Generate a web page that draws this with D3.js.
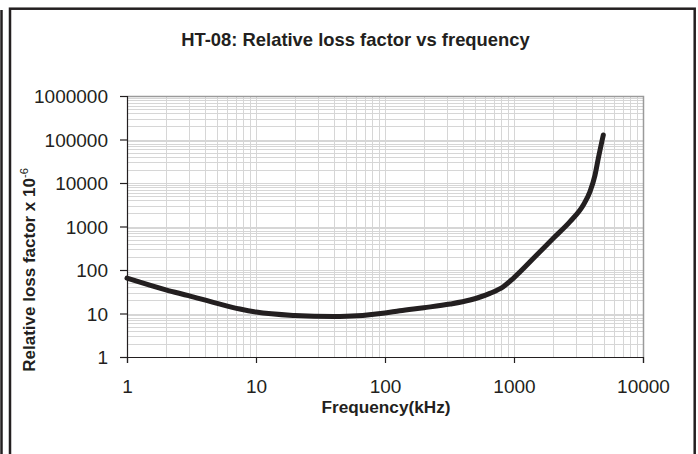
<!DOCTYPE html>
<html><head><meta charset="utf-8">
<script src="https://cdn.jsdelivr.net/npm/d3@7"></script>
<style>
html,body{margin:0;padding:0;background:#fff;}
svg{display:block;font-family:"Liberation Sans",Arial,sans-serif;}
</style></head>
<body>
<svg id="c" width="698" height="454"></svg>
<script>
const frequency = [1, 2, 3, 5, 7.5, 10, 20, 40, 50, 100, 130, 200, 320, 456, 650, 826, 988, 1500, 2017, 2717, 3446, 3882, 4246, 4505, 4923];
const lossFactor = [65, 35, 25.7, 17.1, 12.7, 10.8, 9.0, 8.5, 8.6, 10.3, 11.6, 13.6, 16.5, 20.4, 29, 41.3, 64.5, 221, 536, 1290, 3120, 6300, 15200, 37000, 127000];
const xTicks = [1, 10, 100, 1000, 10000];
const yTicks = [1, 10, 100, 1000, 10000, 100000, 1000000];
const titleText = "HT-08: Relative loss factor vs frequency";
const xLabel = "Frequency(kHz)";
const yLabel = "Relative loss factor x 10";
const yLabelSup = "-6";

const svg = d3.select("#c");
const ink = "#231f20";
const L = 127, R = 643, T = 96, B = 357;

// outer frame
svg.append("rect").attr("x",10).attr("y",8.7).attr("width",684.7).attr("height",460)
  .attr("fill","none").attr("stroke","#231f20").attr("stroke-width",2.5);
svg.append("line").attr("x1",1.5).attr("x2",1.5).attr("y1",10).attr("y2",454)
  .attr("stroke","#231f20").attr("stroke-width",2.5);

const x = d3.scaleLog().domain([1,10000]).range([L,R]);
const y = d3.scaleLog().domain([1,1000000]).range([B,T]);

// grid
const xGrid = [], yGrid = [];
for (let d = 1; d < 10000; d *= 10) for (let k = 1; k <= 10; k++) xGrid.push(d*k);
for (let d = 1; d < 1000000; d *= 10) for (let k = 1; k <= 10; k++) yGrid.push(d*k);
const g = svg.append("g");
g.selectAll("line.xg").data(xGrid).enter().append("line")
  .attr("x1",d=>Math.round(x(d))+0.5).attr("x2",d=>Math.round(x(d))+0.5)
  .attr("y1",T).attr("y2",B).attr("stroke","#d6d6d6").attr("stroke-width",1);
g.selectAll("line.yg").data(yGrid).enter().append("line")
  .attr("y1",d=>Math.round(y(d))+0.5).attr("y2",d=>Math.round(y(d))+0.5)
  .attr("x1",L).attr("x2",R).attr("stroke","#d6d6d6").attr("stroke-width",1);

// plot border top/right
svg.append("path").attr("d",`M${L},${T+0.5}H${R+0.5}V${B}`)
  .attr("fill","none").attr("stroke","#9a9a9a").attr("stroke-width",1.5);

// axes
const xAxis = d3.axisBottom(x).tickValues(xTicks).tickFormat(d3.format("d")).tickSizeOuter(0).tickSize(6);
const yAxis = d3.axisLeft(y).tickValues(yTicks).tickFormat(d3.format("d")).tickSizeOuter(0).tickSize(7).tickPadding(12);
const gx = svg.append("g").attr("transform",`translate(0,${B})`).call(xAxis);
const gy = svg.append("g").attr("transform",`translate(${L},0)`).call(yAxis);
[gx,gy].forEach(a=>{
  a.select(".domain").attr("stroke",ink).attr("stroke-width",1.2);
  a.selectAll(".tick line").attr("stroke",ink).attr("stroke-width",1.2);
  a.selectAll(".tick text").attr("fill",ink).style("font-size","19px").style("font-family","Liberation Sans, Arial, sans-serif");
});
gy.selectAll(".tick text").attr("dy","0.36em");
gx.selectAll(".tick text").attr("y",36).attr("dy","0");

// line
const line = d3.line().x((d,i)=>x(frequency[i])).y((d,i)=>y(lossFactor[i])).curve(d3.curveMonotoneX);
svg.append("path").attr("d", line(frequency)).attr("fill","none")
  .attr("stroke",ink).attr("stroke-width",5).attr("stroke-linecap","round").attr("stroke-linejoin","round");

// title
svg.append("text").attr("x",355.5).attr("y",46).attr("text-anchor","middle")
  .attr("fill",ink).style("font-weight","bold").style("font-size","18.4px").text(titleText);
svg.append("text").attr("x",386).attr("y",413).attr("text-anchor","middle")
  .attr("fill",ink).style("font-weight","bold").style("font-size","17.2px").text(xLabel);
const yl = svg.append("text").attr("transform","translate(35,270) rotate(-90)").attr("text-anchor","middle")
  .attr("fill",ink).style("font-weight","bold").style("font-size","17px");
yl.append("tspan").text(yLabel);
yl.append("tspan").attr("dy","-0.6em").style("font-size","11px").style("font-weight","normal").text(yLabelSup);
</script>
</body></html>
